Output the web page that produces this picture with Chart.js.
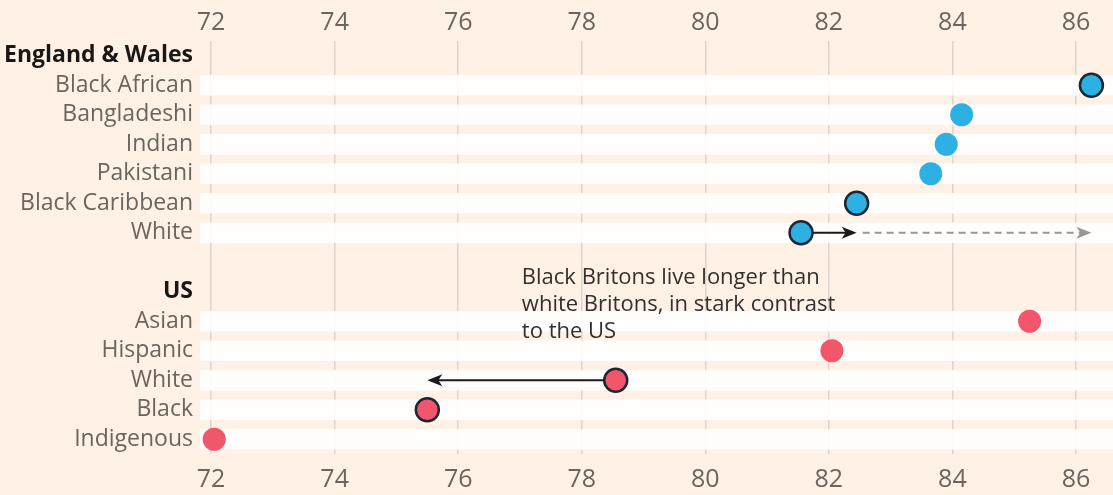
<!DOCTYPE html>
<html>
<head>
<meta charset="utf-8">
<script src="https://cdn.jsdelivr.net/npm/chart.js@4.4.1/dist/chart.umd.min.js"></script>
<style>
  html, body { margin: 0; padding: 0; background: #fff1e5; }
  #wrap { width: 1113px; height: 495px; }
</style>
</head>
<body>
<div id="wrap"><canvas id="chart"></canvas></div>
<script>
// rows of the y axis (headers, a blank spacer, groups)
var rowLabels = ['England & Wales', 'Black African', 'Bangladeshi', 'Indian', 'Pakistani', 'Black Caribbean', 'White',
  '', 'US', 'Asian', 'Hispanic', 'White', 'Black', 'Indigenous'];
var headerRows = ['England & Wales', 'US'];

// life expectancy, England & Wales
var ewGroups = ['Black African', 'Bangladeshi', 'Indian', 'Pakistani', 'Black Caribbean', 'White'];
var ewLife = [86.25, 84.15, 83.9, 83.65, 82.45, 81.55];
var ewOutlined = [true, false, false, false, true, true];

// life expectancy, US
var usGroups = ['Asian', 'Hispanic', 'White', 'Black', 'Indigenous'];
var usLife = [85.25, 82.05, 78.55, 75.5, 72.05];
var usOutlined = [false, false, true, true, false];

var xTicks = [72, 74, 76, 78, 80, 82, 84, 86];
var noteLines = ['Black Britons live longer than', 'white Britons, in stark contrast', 'to the US'];

var X_MIN = 71.82, X_MAX = 86.6;
var FONT = '"Open Sans", sans-serif';
var BLUE = '#2db1e4', RED = '#f1566a', RING = '#1d2733';

var ewStart = rowLabels.indexOf('England & Wales') + 1;
var usStart = rowLabels.indexOf('US') + 1;

// spread a group's values over the full row list (null on other rows)
function rowData(values, start) {
  return rowLabels.map(function (lab, i) {
    var k = i - start;
    return k >= 0 && k < values.length ? values[k] : null;
  });
}
function rowStyle(flags, start, on, off) {
  return rowLabels.map(function (lab, i) {
    var k = i - start;
    return k >= 0 && k < flags.length && flags[k] ? on : off;
  });
}

// white stripes behind each data row
var bands = rowLabels.map(function (lab, i) {
  var isRow = (i >= ewStart && i < ewStart + ewGroups.length) || (i >= usStart && i < usStart + usGroups.length);
  return isRow ? [X_MIN, X_MAX] : null;
});

function arrow(ctx, x1, x2, y, color, dashed) {
  var dir = x2 > x1 ? 1 : -1;
  ctx.save();
  ctx.strokeStyle = color;
  ctx.fillStyle = color;
  ctx.lineWidth = 2;
  if (dashed) ctx.setLineDash([7, 5]);
  ctx.beginPath();
  ctx.moveTo(x1, y);
  ctx.lineTo(x2 - dir * 8, y);
  ctx.stroke();
  ctx.setLineDash([]);
  ctx.beginPath();
  ctx.moveTo(x2, y);
  ctx.lineTo(x2 - dir * 15, y - 6);
  ctx.lineTo(x2 - dir * 11, y);
  ctx.lineTo(x2 - dir * 15, y + 6);
  ctx.closePath();
  ctx.fill();
  ctx.restore();
}

var annotations = {
  id: 'annotations',
  afterDatasetsDraw: function (chart) {
    var ctx = chart.ctx;
    var xs = chart.scales.x, ys = chart.scales.y;
    var r = 12;
    // England & Wales: white -> black caribbean -> black african
    var yW = ys.getPixelForValue(ewStart + 5);
    arrow(ctx, xs.getPixelForValue(ewLife[5]) + r, xs.getPixelForValue(ewLife[4]), yW, '#1a1a1a', false);
    arrow(ctx, xs.getPixelForValue(ewLife[4]) + 6, xs.getPixelForValue(ewLife[0]), yW, '#9a9692', true);
    // US: white -> black
    var yU = ys.getPixelForValue(usStart + 2);
    arrow(ctx, xs.getPixelForValue(usLife[2]) - r, xs.getPixelForValue(usLife[3]), yU, '#1a1a1a', false);

    ctx.save();
    ctx.font = '22px ' + FONT;
    ctx.fillStyle = '#33302e';
    ctx.textBaseline = 'middle';
    ctx.textAlign = 'left';
    var tx = xs.getPixelForValue(77.03);
    noteLines.forEach(function (line, i) {
      ctx.fillText(line, tx, 278 + i * 27);
    });
    ctx.restore();
  }
};

function setTicks(axis) {
  axis.ticks = xTicks.map(function (v) { return { value: v }; });
}
function fitX(s) {
  s.height = 41;
}

new Chart(document.getElementById('chart'), {
  type: 'bar',
  data: {
    labels: rowLabels,
    datasets: [
      {
        type: 'line', showLine: false, clip: false, data: rowData(ewLife, ewStart),
        pointRadius: 11.5, pointBackgroundColor: BLUE,
        pointBorderColor: rowStyle(ewOutlined, ewStart, RING, BLUE),
        pointBorderWidth: rowStyle(ewOutlined, ewStart, 2.5, 0)
      },
      {
        type: 'line', showLine: false, clip: false, data: rowData(usLife, usStart),
        pointRadius: 11.5, pointBackgroundColor: RED,
        pointBorderColor: rowStyle(usOutlined, usStart, RING, RED),
        pointBorderWidth: rowStyle(usOutlined, usStart, 2.5, 0)
      },
      {
        data: bands, backgroundColor: 'rgba(255,255,255,0.9)', barThickness: 20, borderWidth: 0
      }
    ]
  },
  options: {
    indexAxis: 'y',
    responsive: true,
    maintainAspectRatio: false,
    animation: false,
    events: [],
    layout: { padding: 0, autoPadding: false },
    plugins: { legend: { display: false }, tooltip: { enabled: false } },
    scales: {
      x: {
        type: 'linear', position: 'bottom', min: X_MIN, max: X_MAX,
        afterBuildTicks: setTicks,
        afterFit: fitX,
        grid: { color: '#ddd5cd', lineWidth: 1.5, drawTicks: false },
        border: { display: false },
        ticks: { font: { family: FONT, size: 25 }, color: '#6b6560', padding: 11 }
      },
      xTop: {
        type: 'linear', position: 'top', min: X_MIN, max: X_MAX,
        afterBuildTicks: setTicks,
        afterFit: fitX,
        grid: { display: false, drawTicks: false },
        border: { display: false },
        ticks: { font: { family: FONT, size: 25 }, color: '#6b6560', padding: 3 }
      },
      y: {
        type: 'category',
        afterFit: function (s) { s.width = 200; },
        grid: { display: false, drawTicks: false },
        border: { display: false },
        ticks: {
          padding: 7,
          autoSkip: false,
          color: function (c) { return headerRows.indexOf(rowLabels[c.index]) >= 0 ? '#1a1817' : '#6b6560'; },
          font: function (c) {
            var h = headerRows.indexOf(rowLabels[c.index]) >= 0;
            return { family: FONT, size: 23, weight: h ? 'bold' : 'normal' };
          }
        }
      }
    }
  },
  plugins: [annotations]
});
</script>
</body>
</html>
